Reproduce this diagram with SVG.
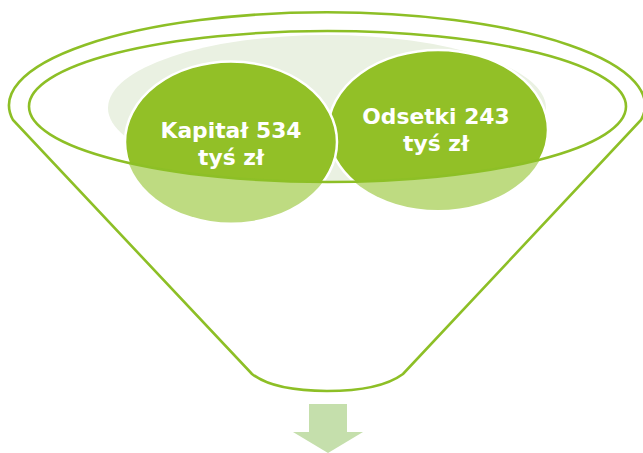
<svg xmlns="http://www.w3.org/2000/svg" width="643" height="453" viewBox="0 0 643 453">
<style>
.outline{fill:none;stroke:#8DBF26;stroke-width:2.6}
.lbl{font-family:"DejaVu Sans","Liberation Sans",sans-serif;font-weight:bold;font-size:21.8px;fill:#FFFFFF;text-anchor:middle}
.dark{fill:#92C027;stroke:#FFFFFF;stroke-width:2.5}
.light{fill:#BEDB81;stroke:none}
</style>
<defs>
<clipPath id="inner"><ellipse cx="327.5" cy="106.5" rx="298.5" ry="75.5"/></clipPath>
</defs>
<rect width="643" height="453" fill="#FFFFFF"/>
<g id="funnel">
<path class="outline" d="M13,120 A318,93 0 1 1 641,120 L403,374 Q380,391 327,391 Q274,391 252,374 Z"/>
<ellipse cx="327" cy="108" rx="219" ry="73" fill="#EAF1E2" clip-path="url(#inner)"/>
</g>
<g id="node-odsetki">
<ellipse class="light" cx="438" cy="130" rx="110" ry="80"/>
<ellipse class="dark" cx="438" cy="130" rx="110" ry="80" clip-path="url(#inner)"/>
</g>
<g id="node-kapital">
<ellipse class="light" cx="231" cy="142" rx="106" ry="80.5"/>
<ellipse class="dark" cx="231" cy="142" rx="106" ry="80.5" clip-path="url(#inner)"/>
</g>
<g id="rim">
<ellipse class="outline" cx="327.5" cy="106.5" rx="298.5" ry="75.5"/>
</g>
<g id="labels">
<text class="lbl" x="231" y="137.5">Kapitał 534</text>
<text class="lbl" x="231" y="165">tyś zł</text>
<text class="lbl" x="436" y="123.5">Odsetki 243</text>
<text class="lbl" x="436" y="151">tyś zł</text>
</g>
<g id="connectors">
<path d="M309,404 H347 V432 H363 L328,453 L293,432 H309 Z" fill="#C5DFAC"/>
</g>
</svg>
